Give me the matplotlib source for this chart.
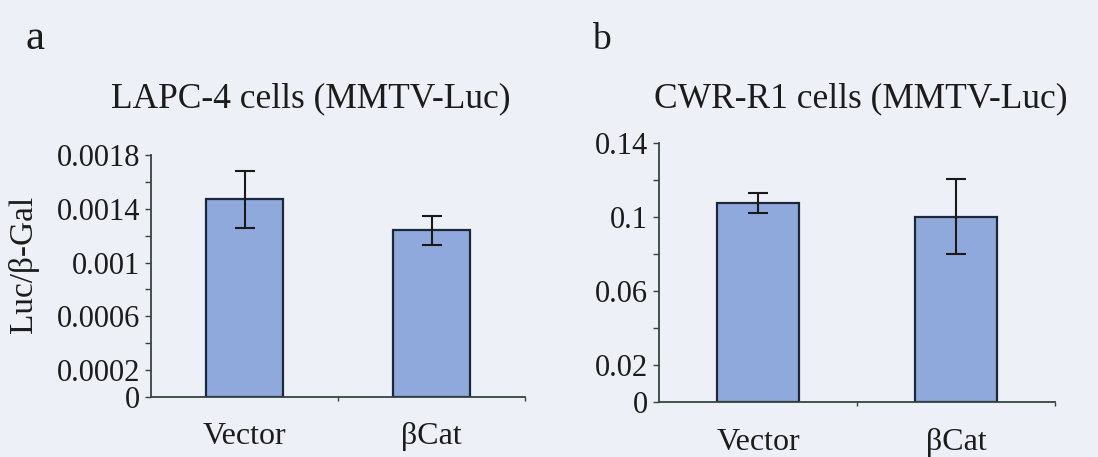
import matplotlib
matplotlib.use("Agg")
import matplotlib.pyplot as plt
import numpy as np

plt.rcParams['font.family'] = ['Liberation Serif', 'DejaVu Serif']

categories = ["Vector", "βCat"]

# Panel a: LAPC-4 cells (MMTV-Luc)
a_values = [0.00147, 0.00124]
a_errors = [0.00021, 0.00011]
a_yticks = [0, 0.0002, 0.0004, 0.0006, 0.0008, 0.001, 0.0012, 0.0014, 0.0016, 0.0018]
a_ylabels = ["0", "0.0002", "", "0.0006", "", "0.001", "", "0.0014", "", "0.0018"]

# Panel b: CWR-R1 cells (MMTV-Luc)
b_values = [0.1077, 0.1002]
b_errors = [0.0055, 0.0203]
b_yticks = [0, 0.02, 0.04, 0.06, 0.08, 0.1, 0.12, 0.14]
b_ylabels = ["0", "0.02", "", "0.06", "", "0.1", "", "0.14"]

W, H = 1098, 457
bg = "#eef0f7"
bar_color = "#8fa9dc"
edge_color = "#1c2838"
axis_color = "#36443f"
text_color = "#1c1c1c"

fig = plt.figure(figsize=(W / 100, H / 100), dpi=100, facecolor=bg)


def panel(rect, values, errors, yticks, ylabels, ymax, xpad):
    ax = fig.add_axes(rect)
    ax.set_facecolor("none")
    x = np.arange(len(categories))
    ax.bar(x, values, width=0.41, color=bar_color, edgecolor=edge_color,
           linewidth=1.6, zorder=2)
    ax.errorbar(x, values, yerr=errors, fmt="none", ecolor="#1a1a1a",
                elinewidth=1.5, capsize=7, capthick=1.5, zorder=3)
    ax.set_xlim(-0.5, 1.5)
    ax.set_ylim(0, ymax)
    for s in ["top", "right"]:
        ax.spines[s].set_visible(False)
    for s in ["left", "bottom"]:
        ax.spines[s].set_color(axis_color)
        ax.spines[s].set_linewidth(1.3)
    ax.set_yticks(yticks)
    ax.set_yticklabels(ylabels)
    ax.tick_params(axis="y", direction="out", length=4, width=1.0,
                   color=axis_color, labelsize=22, labelcolor=text_color, pad=4)
    ax.set_xticks(x)
    ax.set_xticklabels(categories)
    ax.tick_params(axis="x", which="major", length=0, labelsize=23,
                   labelcolor=text_color, pad=xpad)
    ax.set_xticks([0.5, 1.5], minor=True)
    ax.tick_params(axis="x", which="minor", direction="out", length=3,
                   width=1.0, color=axis_color)
    return ax


ax1 = panel([151 / W, 1 - 397 / H, 374 / W, 242 / H], a_values, a_errors,
            a_yticks, a_ylabels, 0.0018, 18)
ax2 = panel([659 / W, 1 - 402 / H, 396 / W, 259 / H], b_values, b_errors,
            b_yticks, b_ylabels, 0.14, 19)

fig.text(23 / W, 1 - 264 / H, "Luc/β-Gal", fontsize=24, rotation=90,
         color=text_color, ha="center", va="center")
fig.text(311 / W, 1 - 99 / H, "LAPC-4 cells (MMTV-Luc)", fontsize=25.5,
         color=text_color, ha="center", va="center")
fig.text(861 / W, 1 - 99 / H, "CWR-R1 cells (MMTV-Luc)", fontsize=25.5,
         color=text_color, ha="center", va="center")
fig.text(35 / W, 1 - 39 / H, "a", fontsize=31, color=text_color,
         ha="center", va="center")
fig.text(601 / W, 1 - 40 / H, "b", fontsize=27, color=text_color,
         ha="center", va="center")

fig.savefig("out.png", dpi=100, facecolor=bg)
